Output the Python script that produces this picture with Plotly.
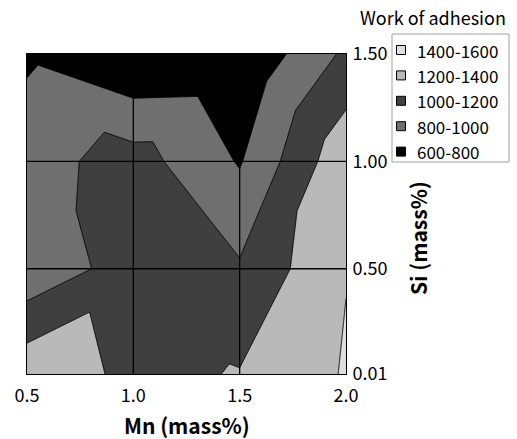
import numpy as np
import plotly.graph_objects as go

# Grid of measured work of adhesion: rows follow si_values, columns follow mn_values
mn_values = [0.5, 1.0, 1.5, 2.0]
si_values = [0.01, 0.5, 1.0, 1.5]
work_of_adhesion = [
    [1346, 1147, 1211, 1415],   # Si 0.01
    [848, 1098, 1024, 1394],    # Si 0.50
    [916, 1087, 784, 1350],     # Si 1.00
    [767, 599, 613, 1038],      # Si 1.50
]

band_labels = ["600-800", "800-1000", "1000-1200", "1200-1400", "1400-1600"]
band_colors = ["#000000", "#6f6f6f", "#3f3f3f", "#b9b9b9", "#dedede"]
x_ticks = ["0.5", "1.0", "1.5", "2.0"]
y_ticks = ["0.01", "0.50", "1.00", "1.50"]

FONT = "Noto Sans CJK JP"
W, H = 517, 439
M_L, M_R, M_T, M_B = 27, 171, 54, 65
PLOT_W, PLOT_H = W - M_L - M_R, H - M_T - M_B


def px(xp):
    """Horizontal page pixel -> paper coordinate."""
    return (xp - M_L) / PLOT_W


def py(yp):
    """Vertical page pixel (from top) -> paper coordinate."""
    return (H - M_B - yp) / PLOT_H


def triangulated_surface(xg, yg, zg, xs, ys):
    """Piecewise-linear surface: every grid cell is split into two triangles
    along the diagonal whose corner values have the larger sum."""
    xg, yg, zg = np.asarray(xg), np.asarray(yg), np.asarray(zg, dtype=float)
    X, Y = np.meshgrid(xs, ys)
    i = np.clip(np.searchsorted(xg, X, side="right") - 1, 0, len(xg) - 2)
    j = np.clip(np.searchsorted(yg, Y, side="right") - 1, 0, len(yg) - 2)
    u = (X - xg[i]) / (xg[i + 1] - xg[i])
    v = (Y - yg[j]) / (yg[j + 1] - yg[j])
    bl, br = zg[j, i], zg[j, i + 1]
    tl, tr = zg[j + 1, i], zg[j + 1, i + 1]
    rising = (bl + tr) >= (tl + br)
    upper_left = bl + v * (tl - bl) + u * (tr - tl)
    lower_right = bl + u * (br - bl) + v * (tr - br)
    lower_left = bl + u * (br - bl) + v * (tl - bl)
    upper_right = tr + (1 - u) * (tl - tr) + (1 - v) * (br - tr)
    z_rising = np.where(v >= u, upper_left, lower_right)
    z_falling = np.where(u + v <= 1, lower_left, upper_right)
    return np.where(rising, z_rising, z_falling)


xs = np.linspace(mn_values[0], mn_values[-1], 301)
ys = np.linspace(si_values[0], si_values[-1], 301)
zs = np.round(triangulated_surface(mn_values, si_values, work_of_adhesion, xs, ys), 2)

# contour fills are sampled at level + size/2; the scale spans 700..1500
n = len(band_colors)
colorscale = [[k / (n - 1), c] for k, c in enumerate(band_colors)]

fig = go.Figure()
fig.add_trace(go.Contour(
    x=xs, y=ys, z=zs,
    autocontour=False,
    contours=dict(start=800, end=1400, size=200, coloring="fill", showlines=True),
    line=dict(color="black", width=1, smoothing=0),
    colorscale=colorscale,
    showscale=False,
    hoverinfo="skip",
    showlegend=False,
))

shapes = []
# major gridlines drawn on top of the filled contours
for xv in mn_values[1:-1]:
    shapes.append(dict(type="line", xref="x", yref="paper", x0=xv, x1=xv,
                       y0=0, y1=1, line=dict(color="black", width=1.3),
                       layer="above"))
for yv in si_values[1:-1]:
    shapes.append(dict(type="line", xref="paper", yref="y", x0=0, x1=1,
                       y0=yv, y1=yv, line=dict(color="black", width=1.3),
                       layer="above"))

annotations = [
    dict(text="Work of adhesion", xref="paper", yref="paper",
         x=px(433), y=py(17), xanchor="center", yanchor="middle",
         showarrow=False, font=dict(family=FONT, size=18)),
    dict(text="<b>Mn (mass%)</b>", xref="paper", yref="paper",
         x=0.5, y=py(425), xanchor="center", yanchor="middle",
         showarrow=False, font=dict(family=FONT, size=21)),
    dict(text="<b>Si (mass%)</b>", xref="paper", yref="paper",
         x=px(418), y=py(238), xanchor="center", yanchor="middle",
         textangle=-90, showarrow=False, font=dict(family=FONT, size=21)),
]

# legend box with one swatch per band, highest band on top
box_l, box_r, box_t, box_b = 392, 509, 34, 162
shapes.append(dict(type="rect", xref="paper", yref="paper",
                   x0=px(box_l), x1=px(box_r), y0=py(box_b), y1=py(box_t),
                   line=dict(color="#a0a0a0", width=1), fillcolor="white",
                   layer="above"))
row_top, row_step, sw = 50, 25.4, 4.5
for k, (label, color) in enumerate(reversed(list(zip(band_labels, band_colors)))):
    cy = row_top + k * row_step
    shapes.append(dict(type="rect", xref="paper", yref="paper",
                       x0=px(401 - sw), x1=px(401 + sw),
                       y0=py(cy + sw), y1=py(cy - sw),
                       line=dict(color="black", width=1), fillcolor=color,
                       layer="above"))
    annotations.append(dict(text=label, xref="paper", yref="paper",
                            x=px(415), y=py(cy), xanchor="left", yanchor="middle",
                            showarrow=False, font=dict(family=FONT, size=17)))

fig.update_layout(
    width=W, height=H,
    margin=dict(l=M_L, r=M_R, t=M_T, b=M_B),
    paper_bgcolor="white", plot_bgcolor="white",
    font=dict(family=FONT, size=16, color="black"),
    showlegend=False,
    shapes=shapes,
    annotations=annotations,
    xaxis=dict(
        range=[mn_values[0], mn_values[-1]],
        tickvals=mn_values, ticktext=x_ticks,
        showgrid=False, zeroline=False,
        showline=True, linecolor="black", linewidth=1, mirror=True,
        ticks="", ticklabelstandoff=5,
        tickfont=dict(family=FONT, size=18),
    ),
    yaxis=dict(
        range=[si_values[0], si_values[-1]],
        tickvals=si_values, ticktext=y_ticks,
        side="right",
        showgrid=False, zeroline=False,
        showline=True, linecolor="black", linewidth=1, mirror=True,
        ticks="", ticklabelstandoff=2,
        tickfont=dict(family=FONT, size=18),
    ),
)

fig.write_html("out.html")
